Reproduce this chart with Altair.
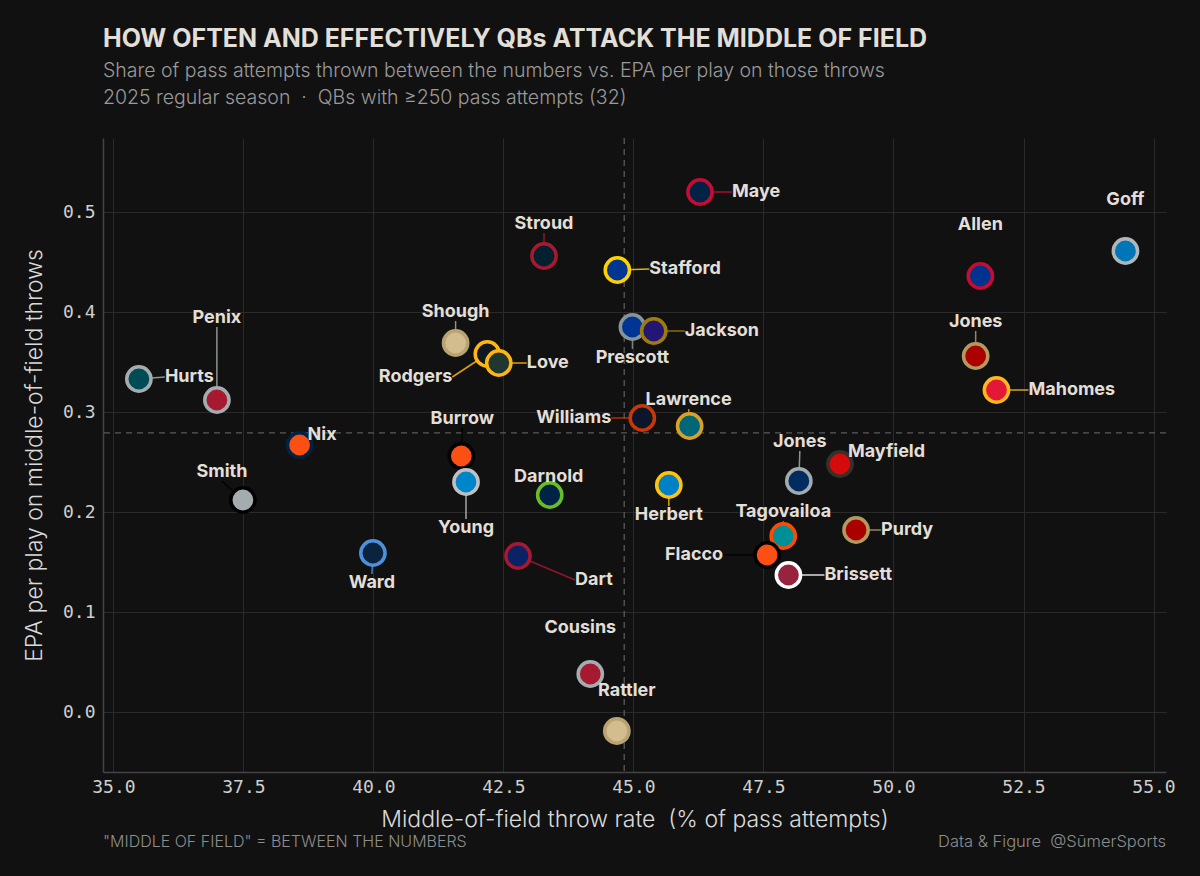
import altair as alt
import pandas as pd

# Quarterbacks with >=250 pass attempts, 2025 regular season
players = ["Hurts", "Penix", "Nix", "Smith", "Ward", "Shough", "Rodgers", "Love",
           "Burrow", "Young", "Darnold", "Dart", "Stroud", "Stafford", "Prescott",
           "Jackson", "Maye", "Williams", "Lawrence", "Herbert", "Cousins", "Rattler",
           "Jones", "Mayfield", "Tagovailoa", "Flacco", "Brissett", "Purdy", "Allen",
           "Jones", "Mahomes", "Goff"]
# share of attempts thrown between the numbers (%)
mof_rate = [35.49, 36.99, 38.58, 37.49, 39.99, 41.58, 42.19, 42.41,
            41.69, 41.78, 43.39, 42.78, 43.28, 44.69, 44.98,
            45.39, 46.28, 45.17, 46.08, 45.68, 44.17, 44.68,
            48.18, 48.97, 47.88, 47.57, 47.98, 49.28, 51.67,
            51.58, 51.98, 54.46]
# EPA per play on those throws
mof_epa = [0.333, 0.312, 0.267, 0.212, 0.159, 0.369, 0.358, 0.349,
           0.256, 0.230, 0.217, 0.156, 0.456, 0.442, 0.385,
           0.381, 0.520, 0.294, 0.286, 0.227, 0.038, -0.019,
           0.231, 0.248, 0.176, 0.157, 0.137, 0.182, 0.436,
           0.356, 0.322, 0.461]
# team primary (dot fill) and secondary (ring) colours
team_fill = ["#004C54", "#A71930", "#FB4F14", "#A5ACAF", "#0C2340", "#D3BC8D", "#101820", "#203731",
             "#FB4F14", "#0085CA", "#002244", "#0B2265", "#03202F", "#003594", "#003594",
             "#241773", "#002244", "#0B162A", "#006778", "#0080C6", "#A71930", "#D3BC8D",
             "#002C5F", "#D50A0A", "#008E97", "#FB4F14", "#97233F", "#AA0000", "#00338D",
             "#AA0000", "#E31837", "#0076B6"]
team_ring = ["#A5ACAF", "#A5ACAF", "#002244", "#000000", "#4B92DB", "#B9A372", "#FFB612", "#FFB612",
             "#000000", "#BFC0BF", "#69BE28", "#A71930", "#A71930", "#FFD100", "#869397",
             "#9E7C0C", "#C60C30", "#C83803", "#D7A22A", "#FFC20E", "#A5ACAF", "#B9A372",
             "#A2AAAD", "#34302B", "#FC4C02", "#000000", "#FFFFFF", "#B3995D", "#C60C30",
             "#B3995D", "#FFB81C", "#B0B7BC"]

# label placement: pixel offset from the dot, text anchoring, and whether a leader is drawn
label_dx = [26, 0, 8, -21, -1, 0, -35, 28, 1, 0, -1, 57, 0, 32, 0,
            31, 32, -31, -1, 0, -10, 10, 1, 8, 0, -44, 36, 25, 0,
            0, 32, 0]
label_dy = [-2, -73, -10, -19, 21, -22, 23, 0, -28, 37, -9, 24, -23, -1, 22,
            0, 0, 0, -17, 21, -37, -31, -30, -12, -15, 0, 0, 0, -42,
            -25, 0, -42]
label_anchor = ["left", "above", "left", "above", "below", "above", "right", "left",
                "above", "below", "above", "left", "above", "left", "below",
                "left", "left", "right", "above", "below", "above", "above",
                "above", "left", "above", "right", "left", "left", "above",
                "above", "left", "above"]
has_leader = [1, 1, 0, 1, 1, 1, 1, 1, 1, 1, 0, 1, 1, 1, 1,
              1, 1, 1, 1, 1, 0, 0, 1, 0, 1, 1, 1, 1, 0,
              1, 1, 0]

X_DOMAIN = [34.80, 55.24]
Y_DOMAIN = [-0.060, 0.574]
W, H = 1063, 634
PX_X = W / (X_DOMAIN[1] - X_DOMAIN[0])
PX_Y = H / (Y_DOMAIN[1] - Y_DOMAIN[0])

BG = "#111111"
TXT = "#E2DFD8"
GRID = "#2A2A2A"
NBSP = "\u00a0"

df = pd.DataFrame({
    "player": players, "rate": mof_rate, "epa": mof_epa,
    "fill": team_fill, "ring": team_ring,
    "anchor": label_anchor, "leader": has_leader,
})
df["lx"] = df["rate"] + pd.Series(label_dx) / PX_X
df["ly"] = df["epa"] - pd.Series(label_dy) / PX_Y

x_scale = alt.Scale(domain=X_DOMAIN, nice=False, zero=False)
y_scale = alt.Scale(domain=Y_DOMAIN, nice=False, zero=False)

base = alt.Chart(df)

x_enc = alt.X("rate:Q", scale=x_scale,
              axis=alt.Axis(values=[35, 37.5, 40, 42.5, 45, 47.5, 50, 52.5, 55], format=".1f",
                            title=f"Middle-of-field throw rate{NBSP} (% of pass attempts)"))
y_enc = alt.Y("epa:Q", scale=y_scale,
              axis=alt.Axis(values=[0, 0.1, 0.2, 0.3, 0.4, 0.5], format=".1f",
                            title="EPA per play on middle-of-field throws"))

# league means as dashed reference lines
mean_x = base.mark_rule(color="#5A5A5A", strokeDash=[6, 5], strokeWidth=1.3).encode(
    x=alt.X("mean(rate):Q", scale=x_scale))
mean_y = base.mark_rule(color="#5A5A5A", strokeDash=[6, 5], strokeWidth=1.3).encode(
    y=alt.Y("mean(epa):Q", scale=y_scale))

leaders = base.transform_filter(alt.datum.leader == 1).mark_rule(
    strokeWidth=1.5, opacity=0.85).encode(
    x=alt.X("rate:Q", scale=x_scale), y=alt.Y("epa:Q", scale=y_scale),
    x2="lx:Q", y2="ly:Q",
    color=alt.Color("ring:N", scale=None))

dots = base.mark_circle(size=590, opacity=1, strokeWidth=3.5).encode(
    x=x_enc, y=y_enc,
    fill=alt.Fill("fill:N", scale=None),
    stroke=alt.Stroke("ring:N", scale=None),
    tooltip=["player", "rate", "epa"])

text_style = dict(font="Inter", fontSize=18, fontWeight="bold", color=TXT)
label_layers = []
for anchor, align, baseline in [("left", "left", "middle"),
                                ("right", "right", "middle"),
                                ("above", "center", "bottom"),
                                ("below", "center", "top")]:
    label_layers.append(
        base.transform_filter(alt.datum.anchor == anchor)
        .mark_text(align=align, baseline=baseline, **text_style)
        .encode(x=alt.X("lx:Q", scale=x_scale), y=alt.Y("ly:Q", scale=y_scale),
                text="player:N"))

note_left = alt.Chart(pd.DataFrame({"t": ['"MIDDLE OF FIELD" = BETWEEN THE NUMBERS']})).mark_text(
    align="left", baseline="middle", font="Inter", fontSize=16, fontWeight=300, color="#8E8E8E"
).encode(x=alt.value(0), y=alt.value(H + 70), text="t:N")
note_right = alt.Chart(pd.DataFrame({"t": [f"Data & Figure{NBSP} @S\u016bmerSports"]})).mark_text(
    align="right", baseline="middle", font="Inter", fontSize=16.5, fontWeight=300, color="#8E8E8E"
).encode(x=alt.value(W), y=alt.value(H + 70), text="t:N")

chart = alt.layer(mean_x, mean_y, leaders, dots, *label_layers, note_left, note_right).properties(
    width=W, height=H,
    background=BG,
    padding={"left": 103, "top": 138, "right": 34, "bottom": 104},
    autosize=alt.AutoSizeParams(type="none"),
    title=alt.Title(
        "HOW OFTEN AND EFFECTIVELY QBs ATTACK THE MIDDLE OF FIELD",
        subtitle=["Share of pass attempts thrown between the numbers vs. EPA per play on those throws",
                  f"2025 regular season {NBSP}\u00b7{NBSP} QBs with \u2265250 pass attempts (32)"],
        anchor="start", frame="group", offset=30,
        font="Inter", fontSize=25, fontWeight="bold", color=TXT,
        subtitleFont="Inter", subtitleFontSize=19.5, subtitleFontWeight=300,
        subtitleColor="#9A9A9A", subtitlePadding=10, subtitleLineHeight=27,
    ),
).configure_view(stroke=None).configure_axis(
    grid=True, gridColor=GRID, gridWidth=1,
    domainColor="#444444", domainWidth=1.5, ticks=False,
    labelFont="DejaVu Sans Mono", labelFontSize=18, labelColor="#CFCFCF",
    titleFont="Inter", titleFontSize=23, titleFontWeight=300, titleColor="#DADADA",
).configure_axisX(labelPadding=6, titlePadding=12).configure_axisY(labelPadding=8, titlePadding=16)

chart.save("out.html", embed_options={"renderer": "svg", "actions": False})
